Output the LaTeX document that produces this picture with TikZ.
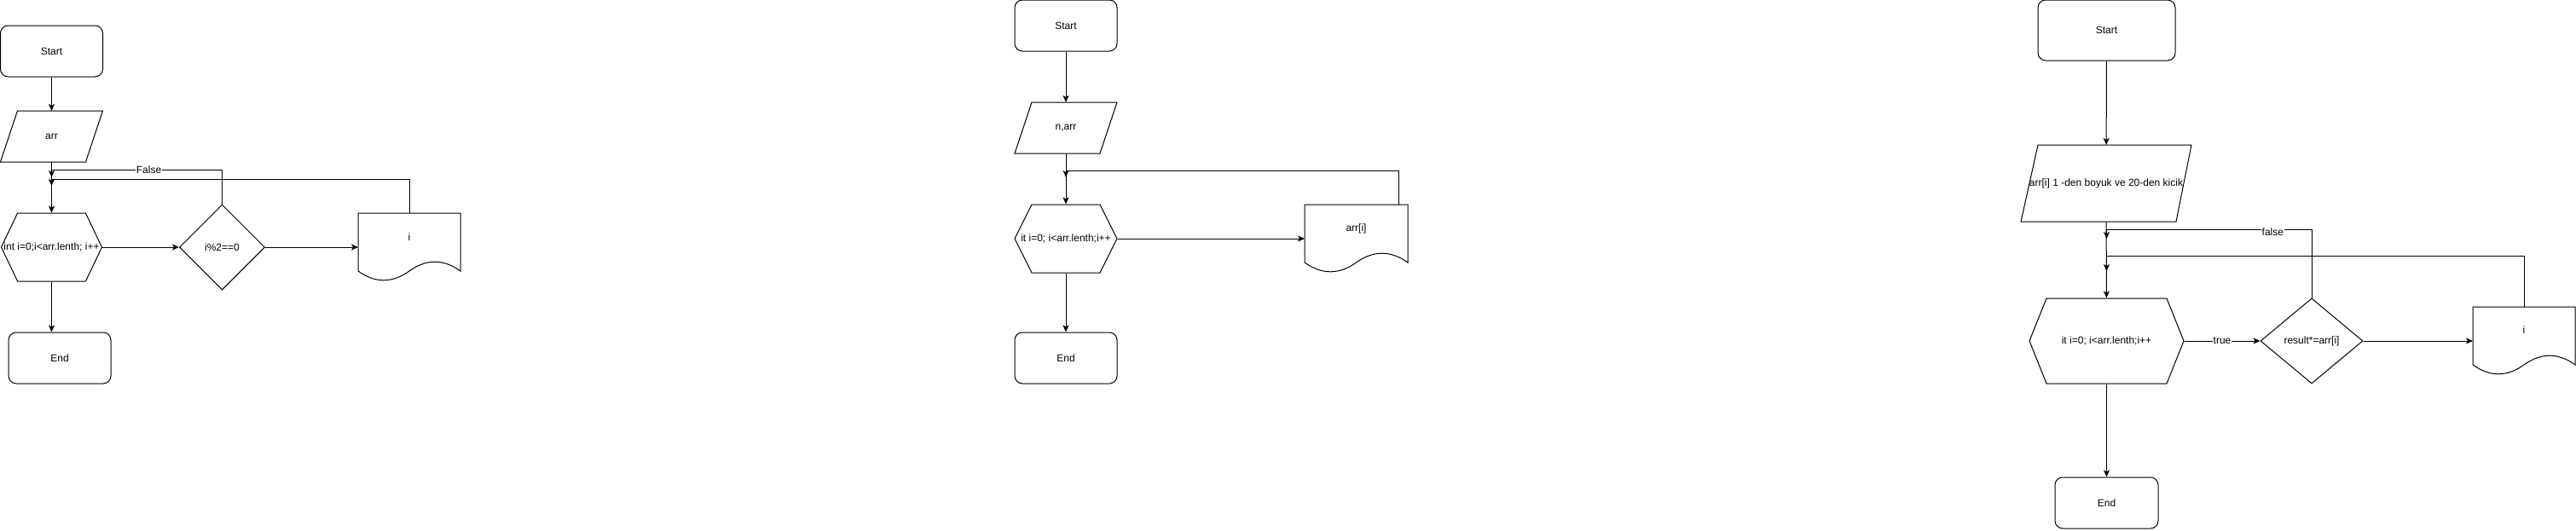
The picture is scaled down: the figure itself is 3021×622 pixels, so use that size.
\documentclass[tikz,border=0pt]{standalone}
\usepackage{fontspec}
\setmainfont{Liberation Sans}
\usetikzlibrary{arrows.meta,shapes.geometric,shapes.symbols,calc}

\begin{document}
\begin{tikzpicture}[x=1pt,y=-1pt,>={Stealth[length=8pt,width=7pt,inset=2pt]},line width=1pt,
  every node/.style={font=\fontsize{12}{14}\selectfont},
  term/.style={draw,rounded corners=9pt,minimum height=60pt,inner sep=0pt},
  io/.style={minimum height=60pt,inner sep=0pt,outer sep=0pt},
  loopbox/.style={draw,signal,signal to=west and east,inner sep=0pt},
  cond/.style={draw,diamond,inner sep=1pt},
  docbox/.style={minimum height=80pt,inner sep=0pt,outer sep=0pt},
  lbl/.style={fill=white,inner sep=1pt}]
\useasboundingbox (0,0) rectangle (3021,622);
% first chart
\node[term,minimum width=120pt] (start1) at (60.5,60) {Start};
\node[io,minimum width=120pt] (in1) at (60.5,160) {arr};
\node[loopbox,minimum width=118pt,minimum height=80pt,signal pointer angle=129,label=center:{int i=0;i<arr.lenth; i++}] (for1) at (60.5,290) {};
\node[cond,minimum width=100pt,minimum height=100pt] (if1) at (260.5,290) {i\%2==0};
\node[docbox,minimum width=120pt,label={[yshift=12pt]center:i}] (out1) at (480,290) {};
\node[term,minimum width=120pt] (end1) at (70,420) {End};
\coordinate (j1) at (60.5,208);\coordinate (k1) at (60.5,218);
% second chart
\node[term,minimum width=120pt] (start2) at (1250,30) {Start};
\node[io,minimum width=120pt] (in2) at (1250,150) {n,arr};
\node[loopbox,minimum width=120pt,minimum height=80pt,signal pointer angle=126.9,label=center:{it i=0; i<arr.lenth;i++}] (for2) at (1250,280) {};
\node[docbox,minimum width=121pt,label={[yshift=12pt]center:{arr[i]}}] (out2) at (1590.5,280) {};
\node[term,minimum width=120pt] (end2) at (1250,420) {End};
\coordinate (k2) at (1250,208);
% third chart
\node[term,minimum width=161pt,minimum height=71pt] (start3) at (2470.5,35.5) {Start};
\node[io,minimum width=200pt,minimum height=90pt] (in3) at (2470,215) {arr[i] 1 -den boyuk ve 20-den kicik};
\node[loopbox,minimum width=181pt,minimum height=100pt,signal pointer angle=136.4,label=center:{it i=0; i<arr.lenth;i++}] (for3) at (2470.5,400) {};
\node[cond,minimum width=120pt,minimum height=100pt] (if3) at (2711,400) {result*=arr[i]};
\node[docbox,minimum width=120pt,label={[yshift=13pt]center:i}] (out3) at (2960,400) {};
\node[term,minimum width=121pt] (end3) at (2470.5,590) {End};
\coordinate (j3) at (2470.5,280);\coordinate (k3) at (2470.5,318);
% outlines
\foreach \p/\a/\b in {in1/20/20,in2/20/20,in3/20/18}
  \draw ([xshift=\a pt]\p.north west) -- (\p.north east) -- ([xshift=-\b pt]\p.south east) -- (\p.south west) -- cycle;
\foreach \d in {out1,out2,out3}
  \draw ($(\d.south west)+(0,-12)$) |- (\d.north east) -- ($(\d.south east)+(0,-12)$) .. controls ($(\d.south east)!1/6!(\d.south west)+(0,-26.4)$) and ($(\d.south east)!1/3!(\d.south west)+(0,-26.4)$) .. ($(\d.south)+(0,-12)$) .. controls ($(\d.south east)!2/3!(\d.south west)+(0,2.4)$) and ($(\d.south east)!5/6!(\d.south west)+(0,2.4)$) .. cycle;
% arrows
\draw[->] (start1) -- (in1);\draw[->] (in1) -- (for1);\draw[->] (for1) -- (if1);\draw[->] (if1) -- (out1);
\draw[->] (for1.south) -- (for1.south |- end1.north);
\draw[->] (if1.north) -- ++(0,-40) -| node[lbl,pos=.215] (lf1) {False} (j1);
\draw[->] (out1.north) -- ++(0,-40) -| (k1);
\draw[->] (start2) -- (in2);\draw[->] (in2) -- (for2);\draw[->] (for2) -- (out2);\draw[->] (for2) -- (end2);
\draw[->] ([xshift=50pt]out2.north) -- ++(0,-40) -| (k2);
\draw[->] (start3) -- (in3);\draw[->] (in3) -- (for3);\draw[->] (for3) -- (end3);
\draw[->] (for3) -- node[lbl] (lt3) {true} (if3);\draw[->] (if3) -- (out3);
\draw[->] (if3.north) -- ++(0,-80) -| node[lbl,pos=.095,yshift=-3pt] (lf3) {false} (j3);
\draw[->] (out3.north) -- ++(0,-60) -| (k3);
\end{tikzpicture}
\end{document}
